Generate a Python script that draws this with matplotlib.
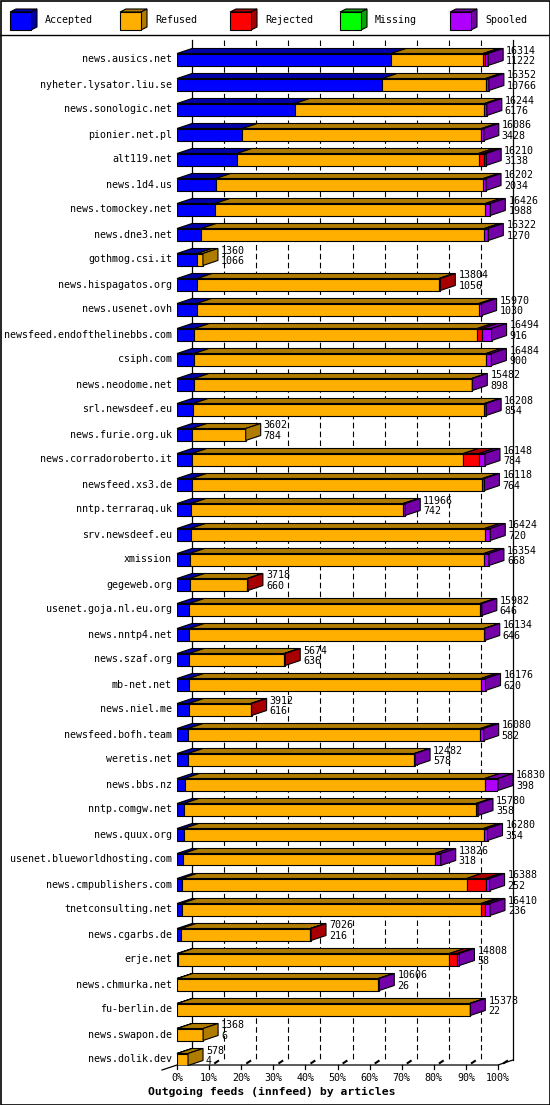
import matplotlib
matplotlib.use("Agg")
import matplotlib.pyplot as plt
from matplotlib.patches import Polygon, Rectangle
from matplotlib.lines import Line2D

# ---- data (articles) ----
hosts = ["news.ausics.net", "nyheter.lysator.liu.se", "news.sonologic.net", "pionier.net.pl",
         "alt119.net", "news.1d4.us", "news.tomockey.net", "news.dne3.net", "gothmog.csi.it",
         "news.hispagatos.org", "news.usenet.ovh", "newsfeed.endofthelinebbs.com", "csiph.com",
         "news.neodome.net", "srl.newsdeef.eu", "news.furie.org.uk", "news.corradoroberto.it",
         "newsfeed.xs3.de", "nntp.terraraq.uk", "srv.newsdeef.eu", "xmission", "gegeweb.org",
         "usenet.goja.nl.eu.org", "news.nntp4.net", "news.szaf.org", "mb-net.net", "news.niel.me",
         "newsfeed.bofh.team", "weretis.net", "news.bbs.nz", "nntp.comgw.net", "news.quux.org",
         "usenet.blueworldhosting.com", "news.cmpublishers.com", "tnetconsulting.net",
         "news.cgarbs.de", "erje.net", "news.chmurka.net", "fu-berlin.de", "news.swapon.de",
         "news.dolik.dev"]

offered = [16314, 16352, 16244, 16086, 16210, 16202, 16426, 16322, 1360, 13804, 15970, 16494,
           16484, 15482, 16208, 3602, 16148, 16118, 11966, 16424, 16354, 3718, 15982, 16134,
           5674, 16176, 3912, 16080, 12482, 16830, 15780, 16280, 13826, 16388, 16410, 7026,
           14808, 10606, 15378, 1368, 578]
accepted = [11222, 10766, 6176, 3428, 3138, 2034, 1988, 1270, 1066, 1056, 1030, 916, 900, 898,
            854, 784, 784, 764, 742, 720, 668, 660, 646, 646, 636, 620, 616, 582, 578, 398,
            358, 354, 318, 252, 236, 216, 58, 26, 22, 6, 4]
refused = [4830, 5411, 9946, 12536, 12670, 14028, 14176, 14842, 294, 12678, 14800, 14827,
           15305, 14549, 15267, 2818, 14229, 15249, 11119, 15407, 15424, 3023, 15249, 15453,
           4986, 15312, 3261, 15323, 11869, 15734, 15317, 15716, 13194, 14931, 15702, 6775,
           14226, 10528, 15321, 1362, 574]
rejected = [105, 0, 0, 0, 262, 0, 0, 0, 0, 70, 0, 262, 0, 0, 0, 0, 838, 0, 0, 0, 0, 35, 0, 0,
            52, 0, 35, 0, 0, 0, 0, 0, 0, 995, 210, 35, 402, 0, 0, 0, 0]
missing = [0] * 41
spooled = [157, 175, 122, 122, 140, 140, 262, 210, 0, 0, 140, 489, 279, 35, 87, 0, 297, 105,
           105, 297, 262, 0, 87, 35, 0, 244, 0, 175, 35, 698, 105, 210, 314, 210, 262, 0, 122,
           52, 35, 0, 0]

series = ["Accepted", "Refused", "Rejected", "Missing", "Spooled"]
values = [accepted, refused, rejected, missing, spooled]
front = ["#0000ff", "#ffaf00", "#ff0000", "#00ff00", "#af00ff"]
dark = ["#0000a8", "#b07c00", "#a80000", "#00a800", "#7400a8"]

FONT = "DejaVu Sans Mono"
FS = 7.2
W, H = 550, 1105

fig = plt.figure(figsize=(W / 100, H / 100), dpi=100)
fig.patch.set_facecolor("white")


def fx(px):
    return px / W


def fy(py):
    return 1 - py / H


# outer frame + legend separator
fig.add_artist(Rectangle((fx(0.5), fy(H - 0.5)), fx(W - 1), (H - 1) / H, transform=fig.transFigure,
                         fill=False, ec="black", lw=1.2))
fig.add_artist(Line2D([0, 1], [fy(35), fy(35)], transform=fig.transFigure, color="black", lw=1.0))

# legend swatches
for j, name in enumerate(series):
    x0 = 10 + 110 * j
    fc, dc = front[j], dark[j]
    fig.add_artist(Polygon([(fx(x0), fy(12)), (fx(x0 + 6), fy(9)), (fx(x0 + 27), fy(9)), (fx(x0 + 21), fy(12))],
                           closed=True, transform=fig.transFigure, fc=dc, ec="black", lw=0.8))
    fig.add_artist(Polygon([(fx(x0 + 21), fy(12)), (fx(x0 + 27), fy(9)), (fx(x0 + 27), fy(27)), (fx(x0 + 21), fy(30))],
                           closed=True, transform=fig.transFigure, fc=dc, ec="black", lw=0.8))
    fig.add_artist(Rectangle((fx(x0), fy(30)), 21 / W, 18 / H, transform=fig.transFigure,
                             fc=fc, ec="black", lw=0.8))
    fig.text(fx(x0 + 35), fy(20), name, family=FONT, fontsize=FS, va="center", ha="left")

# main axes = front plane of the 3d chart
ax = fig.add_axes([fx(177), fy(1065), (498 - 177) / W, (1065 - 40) / H])
ax.set_axis_off()
n = len(hosts)
sums = [sum(v[i] for v in values) for i in range(n)]
xmax = max(sums)
row0, pitch = 59.5, 25.0
ax.set_xlim(0, xmax)
ax.set_ylim((1065 - row0) / pitch, (40 - row0) / pitch)
bot = (1065 - row0) / pitch
top = (40 - row0) / pitch

ux = xmax / (498 - 177)   # one pixel in x
uy = 1 / pitch             # one pixel in y
ddx, ddy = 15 * ux, -5 * uy
half = 6 * uy

# back wall: dashed grid and solid sides
for k in range(1, 10):
    ax.plot([k * xmax / 10 + ddx] * 2, [top, bot + ddy], color="black", lw=0.8,
            ls=(0, (5, 3)), zorder=1, clip_on=False)
for xb in (ddx, xmax + ddx):
    ax.plot([xb, xb], [top, bot + ddy], color="black", lw=0.9, zorder=1, clip_on=False)

# floor
ax.plot([-15 * ux, 0, xmax, xmax + ddx], [bot + 5 * uy, bot, bot, bot + ddy], color="black",
        lw=0.9, zorder=1, clip_on=False)
for k in range(11):
    xt = k * xmax / 10
    ax.plot([xt, xt], [bot, bot + 4 * uy], color="black", lw=0.9, clip_on=False)
    if k > 0:
        ax.plot([xt + 6 * ux, xt + 9 * ux], [bot - 2 * uy, bot - 4 * uy], color="black", lw=1.5,
                clip_on=False)
    ax.text(xt, bot + 13 * uy, "%d%%" % (k * 10), family=FONT, fontsize=FS, ha="center",
            va="center", clip_on=False)

fig.text(fx(148), fy(1092), "Outgoing feeds (innfeed) by articles", family=FONT, fontsize=8.2,
         fontweight="bold", ha="left", va="center")

# bars
for i in range(n):
    left = 0
    last = 0
    for j in range(len(series)):
        v = values[j][i]
        if v <= 0:
            continue
        ax.barh(i, v, left=left, height=2 * half, color=front[j], edgecolor="black", lw=0.8,
                zorder=3)
        ax.add_patch(Polygon([(left, i - half), (left + v, i - half), (left + v + ddx, i - half + ddy),
                              (left + ddx, i - half + ddy)], closed=True, fc=dark[j], ec="black",
                             lw=0.8, zorder=2, clip_on=False))
        left += v
        last = j
    ax.add_patch(Polygon([(left, i - half), (left, i + half), (left + ddx, i + half + ddy),
                          (left + ddx, i - half + ddy)], closed=True, fc=dark[last], ec="black",
                         lw=0.8, zorder=3, clip_on=False))
    ax.text(left + ddx + 3 * ux, i - 9 * uy, str(offered[i]), family=FONT, fontsize=FS,
            ha="left", va="center", clip_on=False, zorder=4)
    ax.text(left + ddx + 3 * ux, i + 1.5 * uy, str(accepted[i]), family=FONT, fontsize=FS,
            ha="left", va="center", clip_on=False, zorder=4)
    ax.text(-5 * ux, i, hosts[i], family=FONT, fontsize=FS, ha="right", va="center",
            clip_on=False)

fig.savefig("out.png", dpi=100)
